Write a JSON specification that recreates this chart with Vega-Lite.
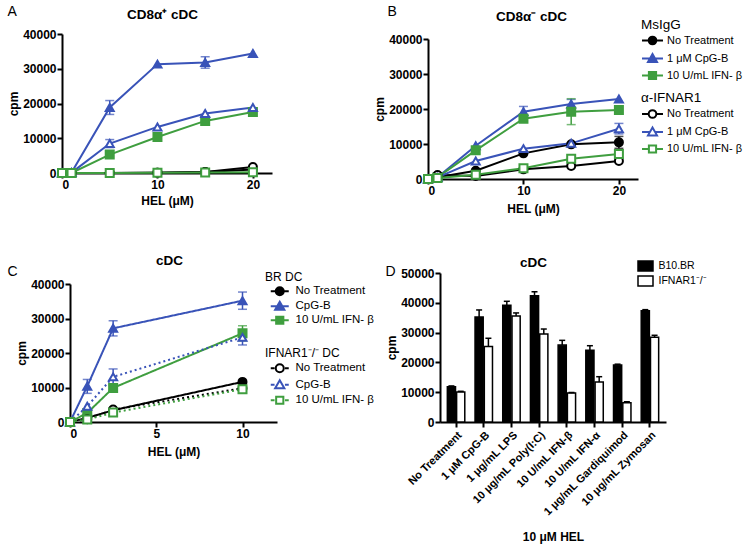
{
"$schema": "https://vega.github.io/schema/vega-lite/v6.json",
"background": "white",
"padding": {"left": 7, "top": 4, "right": 2, "bottom": 2},
"config": {
 "font": "Liberation Sans",
 "view": {"stroke": null},
 "axis": {"domainColor": "black", "domainWidth": 2, "tickColor": "black", "tickWidth": 2, "tickSize": 5, "labelColor": "black", "labelFontWeight": "bold", "labelFontSize": 12, "titleColor": "black", "titleFontWeight": "bold", "titleFontSize": 12, "grid": false},
 "legend": {"labelColor": "black", "titleColor": "black", "titleFontWeight": "normal", "padding": 0, "labelFontSize": 11.5, "titleFontSize": 13}
},
"datasets": {
 "lines": [
  {"p":"A","s":"f0","x":0,"y":0},{"p":"A","s":"f0","x":1,"y":0},{"p":"A","s":"f0","x":5,"y":0},{"p":"A","s":"f0","x":10,"y":100},{"p":"A","s":"f0","x":15,"y":290},{"p":"A","s":"f0","x":20,"y":980},
  {"p":"A","s":"f1","x":0,"y":0},{"p":"A","s":"f1","x":1,"y":150},{"p":"A","s":"f1","x":5,"y":18850,"lo":16850,"hi":20850},{"p":"A","s":"f1","x":10,"y":31330},{"p":"A","s":"f1","x":15,"y":31810,"lo":30160,"hi":33460},{"p":"A","s":"f1","x":20,"y":34400},
  {"p":"A","s":"f2","x":0,"y":0},{"p":"A","s":"f2","x":1,"y":0},{"p":"A","s":"f2","x":5,"y":5300},{"p":"A","s":"f2","x":10,"y":10370},{"p":"A","s":"f2","x":15,"y":14990},{"p":"A","s":"f2","x":20,"y":17580},
  {"p":"A","s":"o0","x":0,"y":0},{"p":"A","s":"o0","x":1,"y":0},{"p":"A","s":"o0","x":5,"y":0},{"p":"A","s":"o0","x":10,"y":100},{"p":"A","s":"o0","x":15,"y":290},{"p":"A","s":"o0","x":20,"y":1730},
  {"p":"A","s":"o1","x":0,"y":0},{"p":"A","s":"o1","x":1,"y":100},{"p":"A","s":"o1","x":5,"y":8470,"lo":7320,"hi":9620},{"p":"A","s":"o1","x":10,"y":13260},{"p":"A","s":"o1","x":15,"y":17120},{"p":"A","s":"o1","x":20,"y":18850},
  {"p":"A","s":"o2","x":0,"y":0},{"p":"A","s":"o2","x":1,"y":0},{"p":"A","s":"o2","x":5,"y":0},{"p":"A","s":"o2","x":10,"y":50},{"p":"A","s":"o2","x":15,"y":150},{"p":"A","s":"o2","x":20,"y":250},
  {"p":"B","s":"f0","x":0,"y":0},{"p":"B","s":"f0","x":1,"y":470},{"p":"B","s":"f0","x":5,"y":2380},{"p":"B","s":"f0","x":10,"y":7330},{"p":"B","s":"f0","x":15,"y":9900},{"p":"B","s":"f0","x":20,"y":10470,"lo":8770,"hi":12170},
  {"p":"B","s":"f1","x":0,"y":0},{"p":"B","s":"f1","x":1,"y":470},{"p":"B","s":"f1","x":5,"y":9510},{"p":"B","s":"f1","x":10,"y":19230,"lo":17730,"hi":20730},{"p":"B","s":"f1","x":15,"y":21430,"lo":20130,"hi":22730},{"p":"B","s":"f1","x":20,"y":22860},
  {"p":"B","s":"f2","x":0,"y":0},{"p":"B","s":"f2","x":1,"y":470},{"p":"B","s":"f2","x":5,"y":8190},{"p":"B","s":"f2","x":10,"y":17240},{"p":"B","s":"f2","x":15,"y":19240,"lo":15540,"hi":22940},{"p":"B","s":"f2","x":20,"y":19710},
  {"p":"B","s":"o0","x":0,"y":0},{"p":"B","s":"o0","x":1,"y":1140},{"p":"B","s":"o0","x":5,"y":860},{"p":"B","s":"o0","x":10,"y":2760},{"p":"B","s":"o0","x":15,"y":3710},{"p":"B","s":"o0","x":20,"y":5140},
  {"p":"B","s":"o1","x":0,"y":0},{"p":"B","s":"o1","x":1,"y":470},{"p":"B","s":"o1","x":5,"y":5140},{"p":"B","s":"o1","x":10,"y":8670},{"p":"B","s":"o1","x":15,"y":10190},{"p":"B","s":"o1","x":20,"y":14380,"lo":12880,"hi":15880},
  {"p":"B","s":"o2","x":0,"y":0},{"p":"B","s":"o2","x":1,"y":300},{"p":"B","s":"o2","x":5,"y":1240},{"p":"B","s":"o2","x":10,"y":3050},{"p":"B","s":"o2","x":15,"y":5810},{"p":"B","s":"o2","x":20,"y":7140,"lo":5940,"hi":8340},
  {"p":"C","s":"f0","x":0,"y":0},{"p":"C","s":"f0","x":1,"y":1200},{"p":"C","s":"f0","x":2.5,"y":3400},{"p":"C","s":"f0","x":10,"y":11630},
  {"p":"C","s":"f1","x":0,"y":0},{"p":"C","s":"f1","x":1,"y":10380,"lo":8300,"hi":12330},{"p":"C","s":"f1","x":2.5,"y":27150,"lo":24950,"hi":29350},{"p":"C","s":"f1","x":10,"y":35170,"lo":32670,"hi":37670},
  {"p":"C","s":"f2","x":0,"y":0},{"p":"C","s":"f2","x":1,"y":2620},{"p":"C","s":"f2","x":2.5,"y":9880},{"p":"C","s":"f2","x":10,"y":25700,"lo":23500,"hi":27900},
  {"p":"C","s":"o0","x":0,"y":0},{"p":"C","s":"o0","x":1,"y":800},{"p":"C","s":"o0","x":2.5,"y":3600},{"p":"C","s":"o0","x":10,"y":9800},
  {"p":"C","s":"o1","x":0,"y":0},{"p":"C","s":"o1","x":1,"y":4560},{"p":"C","s":"o1","x":2.5,"y":13080,"lo":10780,"hi":15380},{"p":"C","s":"o1","x":10,"y":24530,"lo":22330,"hi":26730},
  {"p":"C","s":"o2","x":0,"y":0},{"p":"C","s":"o2","x":1,"y":700},{"p":"C","s":"o2","x":2.5,"y":2730},{"p":"C","s":"o2","x":10,"y":9500}
 ],
 "bars": [
  {"cond":"No Treatment","strain":"B10.BR","v":11800,"hi":12100},{"cond":"No Treatment","strain":"IFNAR1⁻/⁻","v":10100,"hi":10300},
  {"cond":"1 μM CpG-B","strain":"B10.BR","v":35200,"hi":37600},{"cond":"1 μM CpG-B","strain":"IFNAR1⁻/⁻","v":25300,"hi":28100},
  {"cond":"1 μg/mL LPS","strain":"B10.BR","v":39200,"hi":40500},{"cond":"1 μg/mL LPS","strain":"IFNAR1⁻/⁻","v":35600,"hi":36600},
  {"cond":"10 μg/mL Poly(I:C)","strain":"B10.BR","v":42400,"hi":43700},{"cond":"10 μg/mL Poly(I:C)","strain":"IFNAR1⁻/⁻","v":29500,"hi":31200},
  {"cond":"10 U/mL IFN-β","strain":"B10.BR","v":25800,"hi":27400},{"cond":"10 U/mL IFN-β","strain":"IFNAR1⁻/⁻","v":9700,"hi":9900},
  {"cond":"10 U/mL IFN-α","strain":"B10.BR","v":24100,"hi":25600},{"cond":"10 U/mL IFN-α","strain":"IFNAR1⁻/⁻","v":13400,"hi":15200},
  {"cond":"1 μg/mL Gardiquimod","strain":"B10.BR","v":19100,"hi":19400},{"cond":"1 μg/mL Gardiquimod","strain":"IFNAR1⁻/⁻","v":6500,"hi":6800},
  {"cond":"10 μg/mL Zymosan","strain":"B10.BR","v":37300,"hi":37700},{"cond":"10 μg/mL Zymosan","strain":"IFNAR1⁻/⁻","v":28400,"hi":29100}
 ]
},
"columns": 2,
"spacing": {"row": 94, "column": 151},
"bounds": "flush",
"resolve": {"scale": {"fill": "independent", "stroke": "independent", "shape": "independent", "color": "independent", "strokeDash": "independent"}},
"concat": [
 {
  "width": 210, "height": 139,
  "data": {"name": "lines"},
  "transform": [{"filter": "datum.p === 'A'"}],
  "resolve": {"axis": {"x": "independent", "y": "independent"}},
  "layer": [
   {"mark": {"type": "line", "strokeWidth": 2},
    "encoding": {
     "x": {"field": "x", "type": "quantitative", "scale": {"domain": [0, 22], "nice": false}, "axis": {"orient": "bottom", "values": [0, 10, 20], "title": "HEL (μM)", "labelPadding": 1, "titlePadding": 5}},
     "y": {"field": "y", "type": "quantitative", "scale": {"domain": [0, 40000], "nice": false}, "axis": {"orient": "left", "values": [0, 10000, 20000, 30000, 40000], "format": "d", "title": "cpm", "labelPadding": 1, "titlePadding": 2}},
     "stroke": {"field": "s", "type": "nominal", "scale": {"domain": ["f0","f1","f2","o0","o1","o2"], "range": ["black","#3953b8","#3f9e3f","black","#3953b8","#3f9e3f"]}, "legend": null}
    }},
   {"transform": [{"filter": "isValid(datum.lo)"}],
    "mark": {"type": "errorbar", "ticks": true, "size": 9, "thickness": 1.5},
    "encoding": {
     "x": {"field": "x", "type": "quantitative", "axis": null},
     "y": {"field": "lo", "type": "quantitative", "axis": null},
     "y2": {"field": "hi"},
     "color": {"field": "s", "type": "nominal", "scale": {"domain": ["f0","f1","f2","o0","o1","o2"], "range": ["black","#3953b8","#3f9e3f","black","#3953b8","#3f9e3f"]}, "legend": null}
    }},
   {"mark": {"type": "point", "size": 64, "strokeWidth": 2, "opacity": 1},
    "encoding": {
     "x": {"field": "x", "type": "quantitative", "axis": {"orient": "top", "domain": false, "ticks": false, "labels": false, "title": "CD8α⁺ cDC", "titleFontSize": 13.5, "titleX": 100, "titleY": -20, "titleAngle": 0, "titleAlign": "center", "titleBaseline": "middle"}},
     "y": {"field": "y", "type": "quantitative", "axis": {"orient": "right", "domain": false, "ticks": false, "labels": false, "title": "A", "titleFontSize": 14, "titleFontWeight": "normal", "titleX": -265, "titleY": -23, "titleAngle": 0, "titleAlign": "left", "titleBaseline": "middle"}},
     "shape": {"field": "s", "type": "nominal", "scale": {"domain": ["f0","f1","f2","o0","o1","o2"], "range": ["circle","triangle-up","square","circle","triangle-up","square"]}, "legend": null},
     "fill": {"field": "s", "type": "nominal", "scale": {"domain": ["f0","f1","f2","o0","o1","o2"], "range": ["black","#3953b8","#3f9e3f","white","white","white"]}, "legend": null},
     "stroke": {"field": "s", "type": "nominal", "scale": {"domain": ["f0","f1","f2","o0","o1","o2"], "range": ["black","#3953b8","#3f9e3f","black","#3953b8","#3f9e3f"]}, "legend": null}
    }}
  ]
 },
 {
  "width": 210, "height": 145,
  "data": {"name": "lines"},
  "transform": [{"filter": "datum.p === 'B'"}],
  "resolve": {"axis": {"x": "independent", "y": "independent"}, "scale": {"shape": "independent", "fill": "independent", "stroke": "independent"}},
  "layer": [
   {"mark": {"type": "line", "strokeWidth": 2},
    "encoding": {
     "x": {"field": "x", "type": "quantitative", "scale": {"domain": [0, 22], "nice": false}, "axis": {"orient": "bottom", "values": [0, 10, 20], "title": "HEL (μM)", "labelPadding": 1, "titlePadding": 7}},
     "y": {"field": "y", "type": "quantitative", "scale": {"domain": [0, 40000], "nice": false, "range": [145, 5]}, "axis": {"orient": "left", "values": [0, 10000, 20000, 30000, 40000], "format": "d", "title": "cpm", "labelPadding": 1, "titlePadding": 2}},
     "stroke": {"field": "s", "type": "nominal", "scale": {"domain": ["f0","f1","f2","o0","o1","o2"], "range": ["black","#3953b8","#3f9e3f","black","#3953b8","#3f9e3f"]}, "legend": null}
    }},
   {"transform": [{"filter": "isValid(datum.lo)"}],
    "mark": {"type": "errorbar", "ticks": true, "size": 9, "thickness": 1.5},
    "encoding": {
     "x": {"field": "x", "type": "quantitative", "axis": null},
     "y": {"field": "lo", "type": "quantitative", "axis": null},
     "y2": {"field": "hi"},
     "color": {"field": "s", "type": "nominal", "scale": {"domain": ["f0","f1","f2","o0","o1","o2"], "range": ["black","#3953b8","#3f9e3f","black","#3953b8","#3f9e3f"]}, "legend": null}
    }},
   {"mark": {"type": "point", "size": 64, "strokeWidth": 2, "opacity": 1},
    "encoding": {
     "x": {"field": "x", "type": "quantitative", "axis": {"orient": "top", "domain": false, "ticks": false, "labels": false, "title": "CD8α⁻ cDC", "titleFontSize": 13.5, "titleX": 103, "titleY": -18, "titleAngle": 0, "titleAlign": "center", "titleBaseline": "middle"}},
     "y": {"field": "y", "type": "quantitative", "axis": {"orient": "right", "domain": false, "ticks": false, "labels": false, "title": "B", "titleFontSize": 14, "titleFontWeight": "normal", "titleX": -251, "titleY": -23, "titleAngle": 0, "titleAlign": "left", "titleBaseline": "middle"}},
     "shape": {"field": "s", "type": "nominal", "scale": {"domain": ["f0","f1","f2","o0","o1","o2"], "range": ["circle","triangle-up","square","circle","triangle-up","square"]}, "legend": null},
     "fill": {"field": "s", "type": "nominal", "scale": {"domain": ["f0","f1","f2","o0","o1","o2"], "range": ["black","#3953b8","#3f9e3f","white","white","white"]}, "legend": null},
     "stroke": {"field": "s", "type": "nominal", "scale": {"domain": ["f0","f1","f2","o0","o1","o2"], "range": ["black","#3953b8","#3f9e3f","black","#3953b8","#3f9e3f"]}, "legend": null}
    }},
   {"transform": [{"filter": "false"}],
    "mark": {"type": "point", "opacity": 1},
    "encoding": {
     "shape": {"field": "s", "type": "nominal", "scale": {"domain": ["No Treatment","1 μM CpG-B","10 U/mL IFN- β"], "range": ["M-2.33,0H2.33M0.85,0A0.85,0.85,0,1,1,-0.85,0A0.85,0.85,0,1,1,0.85,0Z","M-2.33,0H2.33M0,-1L1,0.75H-1Z","M-2.33,0H2.33M-0.8,-0.8H0.8V0.8H-0.8Z"]},
      "legend": {"orient": "none", "legendX": 213, "legendY": -16.5, "title": "MsIgG", "titleFontSize": 13.5, "titlePadding": 4, "labelFontSize": 11, "symbolSize": 81, "symbolStrokeWidth": 2, "symbolOffset": 6, "labelOffset": 9, "rowPadding": 1}},
     "fill": {"field": "s", "type": "nominal", "scale": {"domain": ["No Treatment","1 μM CpG-B","10 U/mL IFN- β"], "range": ["black","#3953b8","#3f9e3f"]}},
     "stroke": {"field": "s", "type": "nominal", "scale": {"domain": ["No Treatment","1 μM CpG-B","10 U/mL IFN- β"], "range": ["black","#3953b8","#3f9e3f"]}}
    }},
   {"transform": [{"filter": "false"}],
    "mark": {"type": "point", "opacity": 1},
    "encoding": {
     "shape": {"field": "s", "type": "nominal", "scale": {"domain": ["No Treatment","1 μM CpG-B","10 U/mL IFN- β"], "range": ["M-2.33,0H-0.85M0.85,0H2.33M0.85,0A0.85,0.85,0,1,1,-0.85,0A0.85,0.85,0,1,1,0.85,0Z","M-2.33,0H-0.57M0.57,0H2.33M0,-1L1,0.75H-1Z","M-2.33,0H-0.8M0.8,0H2.33M-0.8,-0.8H0.8V0.8H-0.8Z"]},
      "legend": {"orient": "none", "legendX": 213, "legendY": 57, "title": "α-IFNAR1", "titleFontSize": 13.5, "titlePadding": 4, "labelFontSize": 11, "symbolSize": 81, "symbolStrokeWidth": 2, "symbolOffset": 6, "labelOffset": 9, "rowPadding": 1}},
     "fill": {"field": "s", "type": "nominal", "scale": {"domain": ["No Treatment","1 μM CpG-B","10 U/mL IFN- β"], "range": ["white","white","white"]}},
     "stroke": {"field": "s", "type": "nominal", "scale": {"domain": ["No Treatment","1 μM CpG-B","10 U/mL IFN- β"], "range": ["black","#3953b8","#3f9e3f"]}}
    }}
  ]
 },
 {
  "width": 215, "height": 149,
  "data": {"name": "lines"},
  "transform": [{"filter": "datum.p === 'C'"}],
  "resolve": {"axis": {"x": "independent", "y": "independent"}, "scale": {"shape": "independent", "fill": "independent", "stroke": "independent"}},
  "layer": [
   {"mark": {"type": "line", "strokeWidth": 2},
    "encoding": {
     "x": {"field": "x", "type": "quantitative", "scale": {"domain": [0, 12], "nice": false, "range": [8, 215]}, "axis": {"orient": "bottom", "values": [0, 5, 10], "title": "HEL (μM)", "labelPadding": 1, "titlePadding": 7}},
     "y": {"field": "y", "type": "quantitative", "scale": {"domain": [0, 40000], "nice": false, "range": [149, 11]}, "axis": {"orient": "left", "offset": -8, "values": [0, 10000, 20000, 30000, 40000], "format": "d", "title": "cpm", "labelPadding": 1, "titlePadding": 2}},
     "stroke": {"field": "s", "type": "nominal", "scale": {"domain": ["f0","f1","f2","o0","o1","o2"], "range": ["black","#3953b8","#3f9e3f","black","#3953b8","#3f9e3f"]}, "legend": null},
     "strokeDash": {"field": "s", "type": "nominal", "scale": {"domain": ["f0","f1","f2","o0","o1","o2"], "range": [[1,0],[1,0],[1,0],[2,3],[2,3],[2,3]]}, "legend": null}
    }},
   {"transform": [{"filter": "isValid(datum.lo)"}],
    "mark": {"type": "errorbar", "ticks": true, "size": 9, "thickness": 1.5},
    "encoding": {
     "x": {"field": "x", "type": "quantitative", "axis": null},
     "y": {"field": "lo", "type": "quantitative", "axis": null},
     "y2": {"field": "hi"},
     "color": {"field": "s", "type": "nominal", "scale": {"domain": ["f0","f1","f2","o0","o1","o2"], "range": ["black","#3953b8","#3f9e3f","black","#3953b8","#3f9e3f"]}, "legend": null}
    }},
   {"mark": {"type": "point", "size": 64, "strokeWidth": 2, "opacity": 1},
    "encoding": {
     "x": {"field": "x", "type": "quantitative", "axis": {"orient": "top", "domain": false, "ticks": false, "labels": false, "title": "cDC", "titleFontSize": 13.5, "titleX": 107, "titleY": -13, "titleAngle": 0, "titleAlign": "center", "titleBaseline": "middle"}},
     "y": {"field": "y", "type": "quantitative", "axis": {"orient": "right", "domain": false, "ticks": false, "labels": false, "title": "C", "titleFontSize": 14, "titleFontWeight": "normal", "titleX": -270, "titleY": -2, "titleAngle": 0, "titleAlign": "left", "titleBaseline": "middle"}},
     "shape": {"field": "s", "type": "nominal", "scale": {"domain": ["f0","f1","f2","o0","o1","o2"], "range": ["circle","triangle-up","square","circle","triangle-up","square"]}, "legend": null},
     "fill": {"field": "s", "type": "nominal", "scale": {"domain": ["f0","f1","f2","o0","o1","o2"], "range": ["black","#3953b8","#3f9e3f","white","white","white"]}, "legend": null},
     "stroke": {"field": "s", "type": "nominal", "scale": {"domain": ["f0","f1","f2","o0","o1","o2"], "range": ["black","#3953b8","#3f9e3f","black","#3953b8","#3f9e3f"]}, "legend": null}
    }},
   {"transform": [{"filter": "false"}],
    "mark": {"type": "point", "opacity": 1},
    "encoding": {
     "shape": {"field": "s", "type": "nominal", "scale": {"domain": ["No Treatment","CpG-B","10 U/mL IFN- β"], "range": ["M-2.25,0H2.25M1,0A1,1,0,1,1,-1,0A1,1,0,1,1,1,0Z","M-2.25,0H2.25M0,-1.15L1.15,0.85H-1.15Z","M-2.25,0H2.25M-0.9,-0.9H0.9V0.9H-0.9Z"]},
      "legend": {"orient": "none", "legendX": 203, "legendY": -1, "title": "BR DC", "titleFontSize": 12, "titlePadding": 1.5, "labelFontSize": 11.5, "symbolSize": 64, "symbolStrokeWidth": 2, "symbolOffset": 9, "labelOffset": 10, "rowPadding": -2}},
     "fill": {"field": "s", "type": "nominal", "scale": {"domain": ["No Treatment","CpG-B","10 U/mL IFN- β"], "range": ["black","#3953b8","#3f9e3f"]}},
     "stroke": {"field": "s", "type": "nominal", "scale": {"domain": ["No Treatment","CpG-B","10 U/mL IFN- β"], "range": ["black","#3953b8","#3f9e3f"]}}
    }},
   {"transform": [{"filter": "false"}],
    "mark": {"type": "point", "opacity": 1},
    "encoding": {
     "shape": {"field": "s", "type": "nominal", "scale": {"domain": ["No Treatment","CpG-B","10 U/mL IFN- β"], "range": ["M-2.25,0H-1.3M1.3,0H2.25M1,0A1,1,0,1,1,-1,0A1,1,0,1,1,1,0Z","M-2.25,0H-1.3M1.3,0H2.25M0,-1.15L1.15,0.85H-1.15Z","M-2.25,0H-1.3M1.3,0H2.25M-0.9,-0.9H0.9V0.9H-0.9Z"]},
      "legend": {"orient": "none", "legendX": 203, "legendY": 74.5, "title": "IFNAR1⁻/⁻ DC", "titleFontSize": 12, "titlePadding": 3, "labelFontSize": 11.5, "symbolSize": 64, "symbolStrokeWidth": 2, "symbolOffset": 9, "labelOffset": 10, "rowPadding": -0.5}},
     "fill": {"field": "s", "type": "nominal", "scale": {"domain": ["No Treatment","CpG-B","10 U/mL IFN- β"], "range": ["white","white","white"]}},
     "stroke": {"field": "s", "type": "nominal", "scale": {"domain": ["No Treatment","CpG-B","10 U/mL IFN- β"], "range": ["black","#3953b8","#3f9e3f"]}}
    }}
  ]
 },
 {
  "width": 238, "height": 149,
  "data": {"name": "bars"},
  "resolve": {"axis": {"x": "independent", "y": "independent"}},
  "layer": [
   {"mark": {"type": "bar", "stroke": "black", "strokeWidth": 1.5},
    "encoding": {
     "x": {"field": "cond", "type": "nominal", "sort": null, "scale": {"domain": ["No Treatment","1 μM CpG-B","1 μg/mL LPS","10 μg/mL Poly(I:C)","10 U/mL IFN-β","10 U/mL IFN-α","1 μg/mL Gardiquimod","10 μg/mL Zymosan"], "range": [12, 238], "paddingInner": 0.37, "paddingOuter": 0.265}, "axis": {"orient": "bottom", "title": "10 μM HEL", "labelAngle": -45, "labelFontSize": 11, "labelPadding": 2, "titlePadding": 14}},
     "xOffset": {"field": "strain", "type": "nominal", "scale": {"domain": ["B10.BR","IFNAR1⁻/⁻"], "paddingInner": 0.12}},
     "y": {"field": "v", "type": "quantitative", "scale": {"domain": [0, 50000], "nice": false}, "axis": {"orient": "left", "offset": -12, "values": [0, 10000, 20000, 30000, 40000, 50000], "format": "d", "title": "cpm", "labelPadding": 1, "titlePadding": 2}},
     "fill": {"field": "strain", "type": "nominal", "scale": {"domain": ["B10.BR","IFNAR1⁻/⁻"], "range": ["black","white"]},
      "legend": {"orient": "none", "legendX": 209, "legendY": -13, "title": null, "symbolType": "M-1.5,-1H1.5V1H-1.5Z", "symbolSize": 100, "symbolStrokeColor": "black", "symbolStrokeWidth": 1.5, "labelFontSize": 10.5, "rowPadding": -1, "symbolOffset": 2.5, "labelOffset": 7}}
    }},
   {"mark": {"type": "rule", "color": "black", "strokeWidth": 1.5},
    "encoding": {
     "x": {"field": "cond", "type": "nominal", "sort": null, "axis": null},
     "xOffset": {"field": "strain", "type": "nominal"},
     "y": {"field": "v", "type": "quantitative", "axis": null},
     "y2": {"field": "hi"}
    }},
   {"mark": {"type": "tick", "color": "black", "thickness": 1.5, "size": 6, "opacity": 1},
    "encoding": {
     "x": {"field": "cond", "type": "nominal", "sort": null, "axis": {"orient": "top", "domain": false, "ticks": false, "labels": false, "title": "cDC", "titleFontSize": 13.5, "titleX": 105, "titleY": -11, "titleAngle": 0, "titleAlign": "center", "titleBaseline": "middle"}},
     "xOffset": {"field": "strain", "type": "nominal"},
     "y": {"field": "hi", "type": "quantitative", "axis": {"orient": "right", "domain": false, "ticks": false, "labels": false, "title": "D", "titleFontSize": 14, "titleFontWeight": "normal", "titleX": -281, "titleY": -2, "titleAngle": 0, "titleAlign": "left", "titleBaseline": "middle"}}
    }}
  ]
 }
]
}
